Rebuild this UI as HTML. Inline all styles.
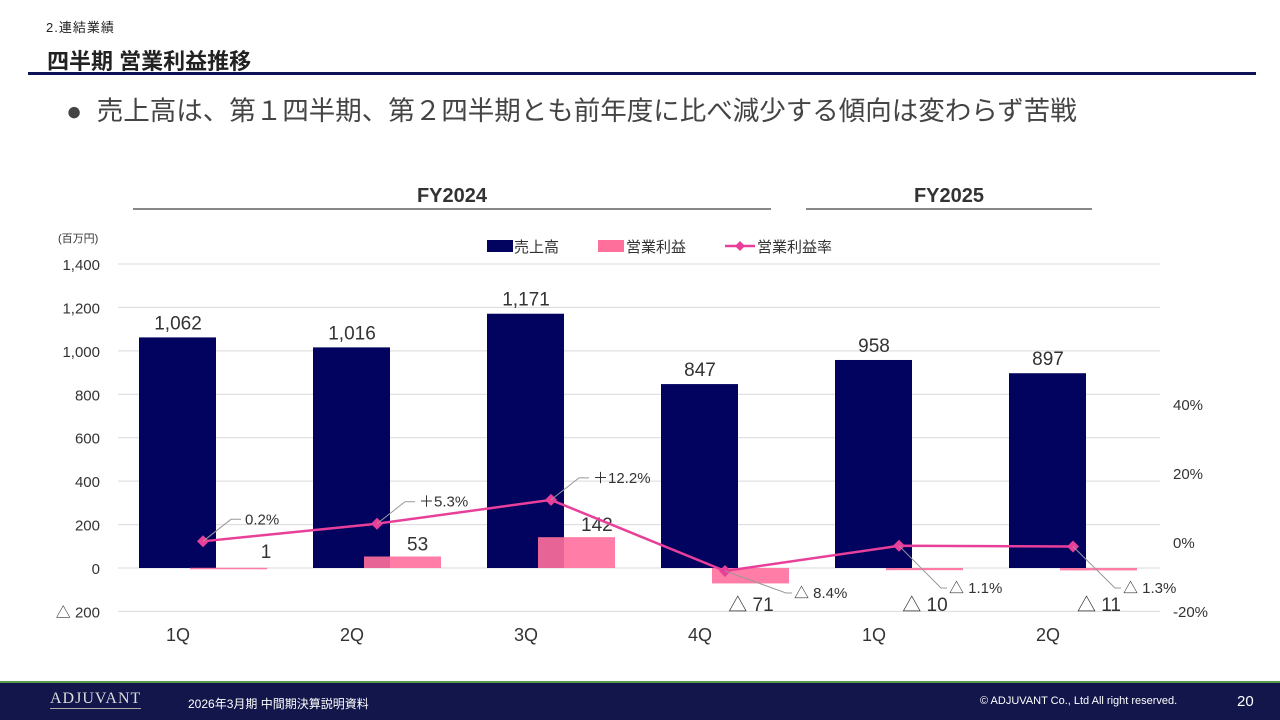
<!DOCTYPE html>
<html><head><meta charset="utf-8">
<style>
body{margin:0;width:1280px;height:720px;overflow:hidden;background:#fff;font-family:"Liberation Sans","Noto Sans CJK JP",sans-serif;position:relative}
.abs{position:absolute}
</style></head><body>
<div class="abs" style="left:46px;top:17px;font-size:13px;color:#222;letter-spacing:1px">2.連結業績</div>
<div class="abs" style="left:47px;top:44px;font-size:22px;font-weight:bold;color:#222">四半期 営業利益推移</div>
<div class="abs" style="left:28px;top:72px;width:1228px;height:3px;background:#0d1257"></div>
<div class="abs" style="left:66px;top:89px;font-size:26.5px;color:#444;white-space:nowrap">●&nbsp; 売上高は、第１四半期、第２四半期とも前年度に比べ減少する傾向は変わらず苦戦</div>
<svg class="abs" style="left:0;top:0" width="1280" height="680" id="chart"></svg>
<div class="abs" style="left:0;top:681px;width:1280px;height:39px;background:#12164a;border-top:2px solid #5a9a4a;box-sizing:border-box">
  <div class="abs" style="left:50px;top:7px;font-family:'Liberation Serif',serif;font-size:16px;color:#ddd;letter-spacing:1px;border-bottom:1px solid #aaa">ADJUVANT</div>
  <div class="abs" style="left:188px;top:12px;font-size:12px;color:#fff">2026年3月期 中間期決算説明資料</div>
  <div class="abs" style="left:980px;top:12px;font-size:11px;color:#fff">© ADJUVANT Co., Ltd All right reserved.</div>
  <div class="abs" style="left:1237px;top:10px;font-size:15px;color:#fff">20</div>
</div>
<script>
const categories=["1Q","2Q","3Q","4Q","1Q","2Q"];
const sales=[1062,1016,1171,847,958,897];
const profit=[1,53,142,-71,-10,-11];
const margin=[0.2,5.3,12.2,-8.4,-1.1,-1.3];
const leftTicks=[-200,0,200,400,600,800,1000,1200,1400];
const rightTicks=[-20,0,20,40];
const svg=document.getElementById('chart');
const NS='http://www.w3.org/2000/svg';
function yL(v){return 568-v*(304/1400);}
function yR(v){return 542-v*(69/20);}
function xC(i){return 203+i*174;}
function mk(tag,attrs,name,text){const e=document.createElementNS(NS,tag);for(const k in attrs)e.setAttribute(k,attrs[k]);

if(text!==undefined)e.textContent=text;svg.appendChild(e);return e;}
function fmt(v){return v<0?'△ '+(-v).toLocaleString('en-US'):v.toLocaleString('en-US');}
function fmtP(v){return v<0?'△ '+(-v).toFixed(1)+'%':(v>1?'＋':'')+v.toFixed(1)+'%';}
mk('text',{x:452,y:202,'font-size':20,'font-weight':'bold','text-anchor':'middle',fill:'#333'},'fy2024-label','FY2024');
mk('line',{x1:133,x2:771,y1:209,y2:209,stroke:'#888','stroke-width':2},'fy2024-rule');
mk('text',{x:949,y:202,'font-size':20,'font-weight':'bold','text-anchor':'middle',fill:'#333'},'fy2025-label','FY2025');
mk('line',{x1:806,x2:1092,y1:209,y2:209,stroke:'#888','stroke-width':2},'fy2025-rule');
mk('text',{x:58,y:242,'font-size':11,fill:'#333'},'unit-label','(百万円)');
leftTicks.forEach(t=>{mk('line',{x1:118,x2:1160,y1:yL(t),y2:yL(t),stroke:'#d9d9d9','stroke-width':1},'gridline');
mk('text',{x:100,y:yL(t)+6,'font-size':15,'text-anchor':'end',fill:'#333'},'left-tick',t<0?'△ '+(-t):t.toLocaleString('en-US'));});
rightTicks.forEach(t=>{mk('text',{x:1173,y:yR(t)+6,'font-size':15,fill:'#333'},'right-tick',t+'%');});
sales.forEach((v,i)=>{mk('rect',{x:xC(i)-64,y:yL(v),width:77,height:yL(0)-yL(v),fill:'#02035f'},'sales-bar');
mk('text',{x:xC(i)-25,y:yL(v)-8,'font-size':19,'text-anchor':'middle',fill:'#333'},'sales-value',fmt(v));});
profit.forEach((v,i)=>{const y0=Math.min(yL(v),yL(0));const h=Math.max(Math.abs(yL(v)-yL(0)),1.5);
mk('rect',{x:xC(i)-13,y:y0,width:77,height:h,fill:'#ff6f9c','fill-opacity':0.9},'profit-bar');
if(v<0){mk('text',{x:xC(i)+26,y:611,'font-size':19,'text-anchor':'middle',fill:'#333'},'profit-value',fmt(v));}
else if(i==0){mk('text',{x:xC(i)+63,y:558,'font-size':19,'text-anchor':'middle',fill:'#333'},'profit-value',fmt(v));}
else{mk('text',{x:xC(i)+30,y:yL(v)-6,'font-size':19,fill:'#333'},'profit-value',fmt(v));}});
let d='';margin.forEach((v,i)=>{d+=(i?'L':'M')+xC(i)+','+yR(v);});
mk('path',{d:d,fill:'none',stroke:'#e8409a','stroke-width':2.5},'margin-line');
margin.forEach((v,i)=>{const x=xC(i),y=yR(v);
mk('polygon',{points:`${x},${y-6} ${x+6},${y} ${x},${y+6} ${x-6},${y}`,fill:'#e8409a'},'margin-marker');
if(v>=0){const ly=y-18;
mk('polyline',{points:`${x},${y} ${x+28},${ly-4} ${x+38},${ly-4}`,fill:'none',stroke:'#999','stroke-width':1},'margin-leader');
mk('text',{x:x+42,y:ly+1,'font-size':15,fill:'#333'},'margin-value',fmtP(v));}
else{const lx=x+(v<-5?69:50), ly=Math.max(y+27,593);
mk('polyline',{points:`${x},${y} ${lx-8},${ly-5} ${lx-2},${ly-5}`,fill:'none',stroke:'#999','stroke-width':1},'margin-leader');
mk('text',{x:lx,y:ly,'font-size':15,fill:'#333'},'margin-value',fmtP(v));}});
categories.forEach((c,i)=>mk('text',{x:xC(i)-25,y:641,'font-size':18,'text-anchor':'middle',fill:'#333'},'category-label',c));
mk('rect',{x:487,y:240,width:26,height:12,fill:'#02035f'},'legend-sales-swatch');
mk('text',{x:514,y:252,'font-size':15,fill:'#333'},'legend-sales','売上高');
mk('rect',{x:598,y:240,width:26,height:12,fill:'#ff6f9c'},'legend-profit-swatch');
mk('text',{x:626,y:252,'font-size':15,fill:'#333'},'legend-profit','営業利益');
mk('line',{x1:725,x2:755,y1:246,y2:246,stroke:'#e8409a','stroke-width':2.5},'legend-margin-line');
mk('polygon',{points:'740,241 745,246 740,251 735,246',fill:'#e8409a'},'legend-margin-marker');
mk('text',{x:757,y:252,'font-size':15,fill:'#333'},'legend-margin','営業利益率');
</script>
</body></html>
